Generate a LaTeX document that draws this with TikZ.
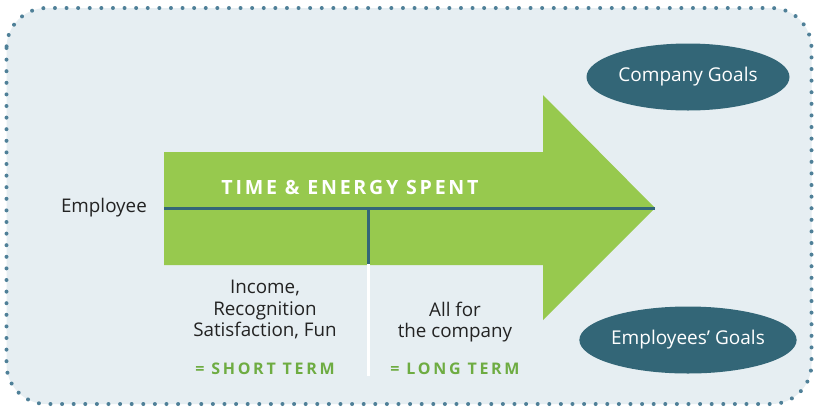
\documentclass[tikz,border=0pt]{standalone}
\usepackage{fontspec}
\setmainfont{Open Sans}
\newfontfamily\titlefont{Open Sans}[LetterSpace=14]
\newfontfamily\termfont{Open Sans}[LetterSpace=17]
\usetikzlibrary{shapes.geometric}

\definecolor{panelfill}{RGB}{230,238,242}
\definecolor{dotblue}{RGB}{79,128,152}
\definecolor{arrowgreen}{RGB}{151,201,78}
\definecolor{termgreen}{RGB}{110,172,66}
\definecolor{tealdark}{RGB}{51,102,119}
\definecolor{bodytext}{RGB}{35,35,35}

\tikzset{
  panel/.style={fill=panelfill, draw=dotblue, line width=4pt, line cap=round,
    dash pattern=on 0pt off 11.6pt, rounded corners=40pt},
  bodylabel/.style={font=\fontsize{18.8}{21.5}\selectfont, text=bodytext, align=center, inner sep=0pt},
  termlabel/.style={font=\termfont\bfseries\fontsize{16}{18}\selectfont, text=termgreen, inner sep=0pt},
  goal/.style={ellipse, fill=tealdark, minimum width=203pt, minimum height=67pt,
    inner sep=0pt, text=white, font=\fontsize{19}{22}\selectfont},
  divider/.style={draw=tealdark, line width=3pt},
}

\begin{document}
\begin{tikzpicture}[x=1pt,y=-1pt]
\useasboundingbox (0,0) rectangle (814,408);
\fill[white] (0,0) rectangle (814,408);

% dotted outer panel
\path[panel] (6.5,8) rectangle (811.5,404);

% big arrow
\fill[arrowgreen] (164,152) -- (543,152) -- (543,95) -- (655,208)
  -- (543,320) -- (543,265) -- (164,265) -- cycle;

% time line through the arrow
\coordinate (linestart) at (164,208);
\coordinate (tip) at (655,208);
\coordinate (split) at (368,208);
\coordinate (splitbase) at (368,264);
\coordinate (splitend) at (368,376);
\draw[divider] (linestart) -- (tip);
\draw[divider] (split) -- (splitbase);
\draw[white, line width=3pt] (splitbase) -- (splitend);

\node[font=\titlefont\bfseries\fontsize{19.6}{22}\selectfont, text=white, inner sep=0pt]
  (title) at (350,187) {TIME \& ENERGY SPENT};

\node[bodylabel, anchor=east] (employee) at (147,208) {Employee};

\node[bodylabel, anchor=north] (short) at (265,280)
  {Income,\\Recognition\\Satisfaction, Fun};
\node[termlabel] (shortterm) at (265,369) {= SHORT TERM};

\node[bodylabel, anchor=north] (long) at (455,301.5) {All for\\the company};
\node[termlabel] (longterm) at (455,369) {= LONG TERM};

\node[goal] (company) at (688,77) {Company Goals};
\node[goal] (employees) at (688,340) {Employees’ Goals};
\end{tikzpicture}
\end{document}
